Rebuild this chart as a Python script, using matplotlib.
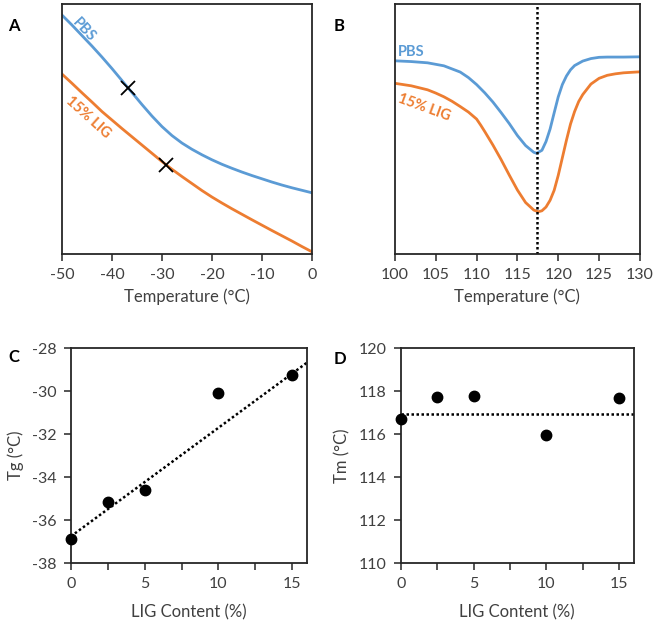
import matplotlib
matplotlib.use("Agg")
import matplotlib.pyplot as plt
import numpy as np

plt.rcParams['font.family'] = ['Lato', 'DejaVu Sans']
plt.rcParams['axes.unicode_minus'] = False

BLUE = '#5B9BD5'
ORANGE = '#ED7D31'
TXT = '#404040'

# Panel A: glass transition region (a.u.)
a_pbs_x = [-50, -48, -46, -44, -42, -40, -38, -36, -34, -32, -30, -28, -26, -24, -22, -20,
           -18, -16, -14, -12, -10, -8, -6, -4, -2, 0]
a_pbs_y = [95.6, 91.6, 87.4, 83.2, 78.8, 74.2, 69.4, 64.6, 59.8, 55.2, 51.0, 47.4, 44.4, 41.9,
           39.7, 37.7, 35.9, 34.3, 32.8, 31.4, 30.1, 28.8, 27.6, 26.5, 25.5, 24.5]
a_lig_x = [-50, -48, -46, -44, -42, -40, -38, -36, -34, -32, -30, -28, -26, -24, -22, -20,
           -18, -16, -14, -12, -10, -8, -6, -4, -2, 0]
a_lig_y = [72.0, 68.3, 64.5, 60.8, 57.0, 53.6, 50.2, 46.9, 43.6, 40.3, 37.0, 33.9, 31.0, 28.2,
           25.4, 22.8, 20.4, 18.1, 15.9, 13.7, 11.55, 9.4, 7.3, 5.2, 3.0, 0.9]
a_tg_x = [-36.7, -29.1]
a_tg_y = [66.3, 35.6]

# Panel B: melting endotherm (a.u.)
b_pbs_x = [100, 102, 104, 106, 108, 109, 110, 111, 112, 113, 114, 115, 116, 117, 117.35,
           118, 118.5, 119, 119.5, 120, 120.5, 121, 121.5, 122, 123, 124, 125, 126, 128, 130]
b_pbs_y = [77.3, 77.0, 76.5, 75.3, 72.8, 70.6, 67.8, 64.5, 60.8, 56.6, 52.2, 47.4, 43.4, 40.7, 40.3,
           41.5, 45.0, 50.0, 56.5, 62.9, 67.8, 71.2, 73.7, 75.4, 77.2, 78.2, 78.7, 78.8, 78.8, 78.9]
b_lig_x = [100, 101, 102, 103, 104, 105, 106, 107, 108, 109, 110, 110.5, 111, 112, 113, 114, 115,
           116, 117, 117.55, 118, 118.5, 119, 119.5, 120, 120.5, 121, 121.5, 122, 122.5, 123,
           124, 125, 126, 127, 128, 130]
b_lig_y = [68.3, 67.8, 67.3, 66.5, 65.7, 64.4, 62.9, 61.1, 59.0, 56.8, 54.0, 51.6, 49.0, 43.6,
           37.8, 31.6, 25.6, 20.6, 17.6, 16.9, 17.3, 18.8, 21.5, 25.5, 31.5, 38.5, 45.5, 52.0,
           57.0, 61.0, 63.8, 68.0, 70.3, 71.5, 72.1, 72.5, 72.9]
b_tm = 117.4

# Panels C and D
lig_content = [0, 2.5, 5, 10, 15]
tg_values = [-36.9, -35.15, -34.6, -30.07, -29.24]
tg_fit_x = [0, 16]
tg_fit_y = [-36.76, -28.67]
tm_values = [116.7, 117.71, 117.76, 115.94, 117.67]
tm_mean = 116.94

fig = plt.figure(figsize=(6.56, 6.28), dpi=100)

TICK_FS = 11.5
LAB_FS = 12

def style(ax):
    for s in ax.spines.values():
        s.set_linewidth(1.3)
        s.set_color('#262626')
    ax.tick_params(colors='#262626', labelcolor=TXT, labelsize=TICK_FS, width=1.1,
                   length=5, direction='out', pad=5)

# A
axA = fig.add_axes([0.0945, 0.5955, 0.381, 0.398])
axA.plot(a_pbs_x, a_pbs_y, color=BLUE, lw=2)
axA.plot(a_lig_x, a_lig_y, color=ORANGE, lw=2)
axA.plot(a_tg_x, a_tg_y, 'x', color='black', ms=10, mew=1.3)
axA.set_xlim(-50, 0)
axA.set_ylim(0, 100)
axA.set_xticks(np.arange(-50, 1, 10))
axA.set_yticks([])
style(axA)
axA.set_xlabel('Temperature (°C)', fontsize=LAB_FS, color=TXT, labelpad=5)
axA.text(-45.6, 89.5, 'PBS', color=BLUE, fontsize=10.5, fontweight='bold', rotation=-47,
         ha='center', va='center')
axA.text(-44.8, 54.5, '15% LIG', color=ORANGE, fontsize=10.5, fontweight='bold', rotation=-42,
         ha='center', va='center')

# B
axB = fig.add_axes([0.602, 0.5955, 0.3735, 0.398])
axB.plot(b_pbs_x, b_pbs_y, color=BLUE, lw=2)
axB.plot(b_lig_x, b_lig_y, color=ORANGE, lw=2)
axB.axvline(b_tm, color='black', ls=(0, (1, 1)), lw=1.8)
axB.set_xlim(100, 130)
axB.set_ylim(0, 100)
axB.set_xticks(np.arange(100, 131, 5))
axB.set_yticks([])
style(axB)
axB.set_xlabel('Temperature (°C)', fontsize=LAB_FS, color=TXT, labelpad=5)
axB.text(100.4, 81.0, 'PBS', color=BLUE, fontsize=10.5, fontweight='bold', ha='left', va='center')
axB.text(103.6, 58.5, '15% LIG', color=ORANGE, fontsize=10.5, fontweight='bold', rotation=-20,
         ha='center', va='center')

# C
axC = fig.add_axes([0.108, 0.1035, 0.36, 0.342])
axC.plot(tg_fit_x, tg_fit_y, color='black', ls=(0, (1, 1)), lw=1.8)
axC.plot(lig_content, tg_values, 'o', color='black', ms=7.5, clip_on=False, zorder=5)
axC.set_xlim(0, 16)
axC.set_ylim(-38, -28)
axC.set_xticks([0, 5, 10, 15])
axC.set_xticks([2.5, 7.5, 12.5], minor=True)
axC.set_yticks(np.arange(-38, -27, 2))
style(axC)
axC.tick_params(which='minor', length=5, width=1.1, colors='#262626')
axC.set_xlabel('LIG Content (%)', fontsize=LAB_FS, color=TXT, labelpad=10)
axC.set_ylabel('Tg (°C)', fontsize=LAB_FS, color=TXT, labelpad=6)

# D
axD = fig.add_axes([0.611, 0.1035, 0.355, 0.342])
axD.plot([0, 16], [tm_mean, tm_mean], color='black', ls=(0, (1, 1)), lw=1.8)
axD.plot(lig_content, tm_values, 'o', color='black', ms=7.5, clip_on=False, zorder=5)
axD.set_xlim(0, 16)
axD.set_ylim(110, 120)
axD.set_xticks([0, 5, 10, 15])
axD.set_xticks([2.5, 7.5, 12.5], minor=True)
axD.set_yticks(np.arange(110, 121, 2))
style(axD)
axD.tick_params(which='minor', length=5, width=1.1, colors='#262626')
axD.set_xlabel('LIG Content (%)', fontsize=LAB_FS, color=TXT, labelpad=10)
axD.set_ylabel('Tm (°C)', fontsize=LAB_FS, color=TXT, labelpad=6)

# panel letters
for lab, (px, py) in {'A': (8, 26), 'B': (334, 26), 'C': (8, 357), 'D': (334, 359)}.items():
    fig.text(px / 656, 1 - py / 628, lab, fontsize=12, fontweight='bold', color='black',
             ha='left', va='center')

fig.savefig('out.png', dpi=100)
